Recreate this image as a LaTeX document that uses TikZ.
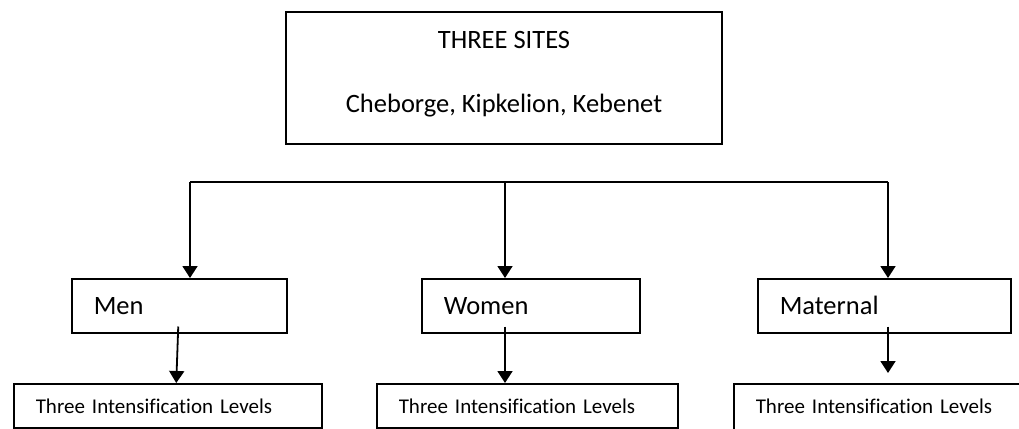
\documentclass[tikz,border=0pt]{standalone}
\usepackage{fontspec}
\setmainfont[Ligatures=NoCommon]{Carlito}
\usetikzlibrary{arrows.meta,positioning,calc}
\tikzstyle{sitebox} = [rectangle, draw, line width=1.5pt, minimum width=436pt, minimum height=132pt, align=center, font=\fontsize{26.5}{32}\selectfont]
\tikzstyle{groupbox} = [rectangle, draw, line width=1.5pt, anchor=north west, minimum height=54pt, inner xsep=22pt, align=left, font=\fontsize{26.5}{32}\selectfont]
\tikzstyle{levelbox} = [rectangle, draw, line width=1.5pt, anchor=north west, inner xsep=22pt, inner ysep=12pt, text height=18pt, text depth=2pt, align=left, font=\fontsize{21}{25}\selectfont]
\tikzstyle{bus} = [line width=1.8pt]
\tikzstyle{arr} = [line width=1.8pt, -{Triangle[width=15pt,length=12pt]}]

\begin{document}
\begin{tikzpicture}[x=1pt, y=-1pt]
    \useasboundingbox[fill=white] (0,0) rectangle (1019,428);
    \node[sitebox, text height=81pt, text depth=13pt] (sites) at (504,78) {THREE SITES\\[32pt]Cheborge, Kipkelion, Kebenet};

    \node[groupbox, text width=171pt] (men) at (71,278) {Men};
    \node[groupbox, text width=174pt] (women) at (421,278) {Women};
    \node[groupbox, text width=209pt] (maternal) at (757,278) {Maternal};

    \node[levelbox, text width=264pt] (menlev) at (13,383) {Three Intensification Levels};
    \node[levelbox, text width=257pt] (womenlev) at (376,383) {Three Intensification Levels};
    \node[levelbox, text width=270pt, text depth=14pt] (matlev) at (733,383) {Three Intensification Levels};

    % distribution line
    \coordinate (busL) at (190,182);
    \coordinate (busM) at (505,182);
    \coordinate (busR) at (888,182);
    \draw[bus] (busL) -- (busR);
    \draw[arr] (busL) -- (busL |- men.north);
    \draw[arr] (busM) -- (busM |- women.north);
    \draw[arr] (busR) -- (busR |- maternal.north);

    \draw[arr] ($(men.south)+(-1,-7)$) -- ($(men.south |- menlev.north)+(-3,0)$);
    \draw[arr] ($(busM |- women.south)+(0,-7)$) -- (busM |- womenlev.north);
    \draw[arr, shorten >=10pt] ($(busR |- maternal.south)+(0,-7)$) -- (busR |- matlev.north);
\end{tikzpicture}
\end{document}
